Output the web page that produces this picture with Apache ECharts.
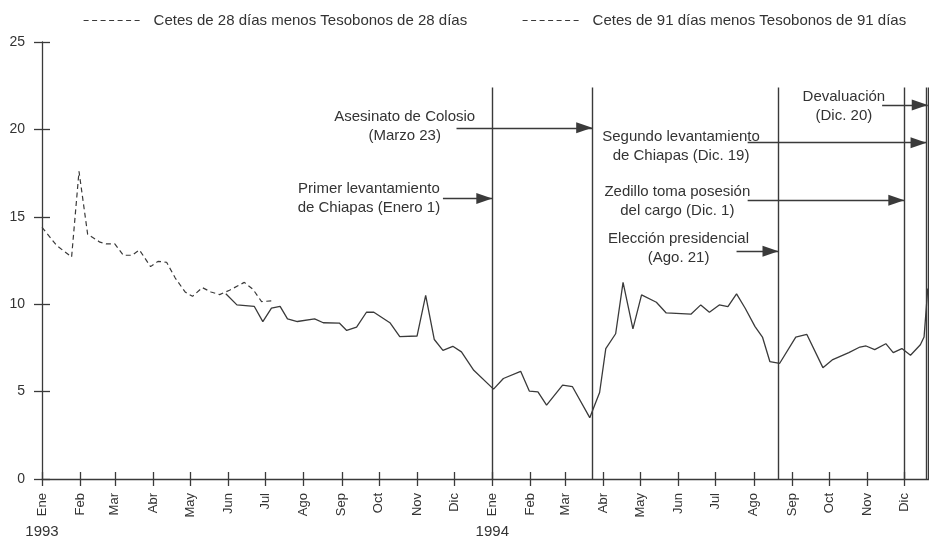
<!DOCTYPE html>
<html>
<head>
<meta charset="utf-8">
<script src="https://cdn.jsdelivr.net/npm/echarts@6.0.0/dist/echarts.min.js"></script>
<style>
  html, body { margin: 0; padding: 0; background: #fff; }
  #chart { width: 929px; height: 539px; }
</style>
</head>
<body>
<div id="chart"></div>
<script>
// nombres de mes para el eje x
const months = ['Ene', 'Feb', 'Mar', 'Abr', 'May', 'Jun', 'Jul', 'Ago', 'Sep', 'Oct', 'Nov', 'Dic']
const yTicks = [0, 5, 10, 15, 20, 25]

const name28 = 'Cetes de 28 días menos Tesobonos de 28 días'
const name91 = 'Cetes de 91 días menos Tesobonos de 91 días'

const dates28 = ['1993-01-01', '1993-01-13', '1993-01-25', '1993-01-31', '1993-02-07', '1993-02-17', '1993-02-22',
  '1993-03-01', '1993-03-08', '1993-03-15', '1993-03-21', '1993-03-30', '1993-04-05', '1993-04-12', '1993-04-19',
  '1993-04-27', '1993-05-03', '1993-05-11', '1993-05-18', '1993-05-25', '1993-06-02', '1993-06-14', '1993-06-21',
  '1993-06-28', '1993-07-08']
const values28 = [14.4, 13.35, 12.7, 17.6, 14.0, 13.55, 13.45, 13.45, 12.8, 12.8, 13.1, 12.15, 12.45, 12.4, 11.5,
  10.7, 10.45, 10.95, 10.7, 10.55, 10.8, 11.25, 10.85, 10.15, 10.2]

const dates91 = ['1993-05-30', '1993-06-08', '1993-06-22', '1993-06-29', '1993-07-06', '1993-07-13', '1993-07-19',
  '1993-07-27', '1993-08-10', '1993-08-17', '1993-08-30', '1993-09-05', '1993-09-13', '1993-09-21', '1993-09-27',
  '1993-10-10', '1993-10-18', '1993-11-01', '1993-11-08', '1993-11-15', '1993-11-22', '1993-11-30', '1993-12-07',
  '1993-12-17', '1994-01-02', '1994-01-10', '1994-01-24', '1994-01-31', '1994-02-07', '1994-02-14', '1994-02-27',
  '1994-03-07', '1994-03-21', '1994-03-29', '1994-04-03', '1994-04-11', '1994-04-17', '1994-04-25', '1994-05-02',
  '1994-05-14', '1994-05-22', '1994-06-11', '1994-06-19', '1994-06-26', '1994-07-04', '1994-07-11', '1994-07-18',
  '1994-07-25', '1994-08-02', '1994-08-08', '1994-08-14', '1994-08-22', '1994-09-04', '1994-09-13', '1994-09-26',
  '1994-10-04', '1994-10-17', '1994-10-26', '1994-10-31', '1994-11-07', '1994-11-16', '1994-11-22', '1994-11-29',
  '1994-12-06', '1994-12-14', '1994-12-17', '1994-12-20']
const values91 = [10.6, 9.96, 9.88, 9.0, 9.77, 9.88, 9.16, 9.01, 9.16, 8.94, 8.92, 8.5, 8.69, 9.54, 9.54, 8.94, 8.14,
  8.18, 10.5, 7.98, 7.36, 7.59, 7.27, 6.22, 5.14, 5.75, 6.16, 5.03, 4.99, 4.23, 5.37, 5.28, 3.51, 4.95, 7.46, 8.31,
  11.25, 8.59, 10.53, 10.11, 9.5, 9.43, 9.96, 9.54, 9.96, 9.86, 10.59, 9.77, 8.72, 8.12, 6.72, 6.62, 8.12, 8.27,
  6.37, 6.83, 7.23, 7.55, 7.61, 7.4, 7.74, 7.23, 7.46, 7.08, 7.68, 8.12, 10.9]

// fechas de los eventos (lineas verticales)
const eventDates = ['1994-01-01', '1994-03-23', '1994-08-21', '1994-12-01', '1994-12-19', '1994-12-20']
const eventTop = 22.4

// texto, ancla del texto, inicio de la flecha, altura y fecha destino
const notes = [
  { text: 'Primer levantamiento\nde Chiapas (Enero 1)', at: ['1993-09-23', 16.08], from: '1993-11-22', y: 16.05, to: '1994-01-01' },
  { text: 'Asesinato de Colosio\n(Marzo 23)', at: ['1993-10-22', 20.18], from: '1993-12-03', y: 20.09, to: '1994-03-23' },
  { text: 'Devaluación\n(Dic. 20)', at: ['1994-10-13', 21.29], from: '1994-11-13', y: 21.4, to: '1994-12-20' },
  { text: 'Segundo levantamiento\nde Chiapas (Dic. 19)', at: ['1994-06-03', 19.04], from: '1994-07-27', y: 19.24, to: '1994-12-19' },
  { text: 'Zedillo toma posesión\ndel cargo (Dic. 1)', at: ['1994-05-31', 15.91], from: '1994-07-27', y: 15.94, to: '1994-12-01' },
  { text: 'Elección presidencial\n(Ago. 21)', at: ['1994-06-01', 13.18], from: '1994-07-18', y: 13.03, to: '1994-08-21' }
]

function t(s) {
  const p = s.split('-')
  return Date.UTC(+p[0], +p[1] - 1, +p[2])
}

const xMin = t('1993-01-01')
const xMax = t('1994-12-21')
const ink = '#3a3a3a'
const font = 'Liberation Sans, Arial, sans-serif'

const chart = echarts.init(document.getElementById('chart'))

const vLines = eventDates.map(d => [
  { coord: [t(d), 0], symbol: 'none' },
  { coord: [t(d), eventTop], symbol: 'none' }
])
const arrows = notes.map(n => [
  { coord: [t(n.from), n.y], symbol: 'none' },
  { coord: [t(n.to), n.y], symbol: 'triangle', symbolSize: [11, 16], symbolOffset: [0, 8] }
])

const timeAxis = {
  type: 'time',
  min: xMin,
  max: xMax,
  splitNumber: 24,
  position: 'bottom',
  splitLine: { show: false }
}

const legendBase = {
  top: 8, itemWidth: 57, itemHeight: 12, selectedMode: false,
  itemStyle: { opacity: 0 },
  lineStyle: { type: [5, 3.5], width: 1.2, color: ink },
  textStyle: { fontSize: 15, color: '#333', padding: [0, 0, 0, 8] }
}

const option = {
  useUTC: true,
  animation: false,
  textStyle: { fontFamily: font },
  grid: { left: 42, right: 0, top: 42, bottom: 58 },
  legend: [
    Object.assign({ data: [name28], left: 78 }, legendBase),
    Object.assign({ data: [name91], left: 517 }, legendBase)
  ],
  xAxis: [
    Object.assign({}, timeAxis, {
      axisLine: { lineStyle: { color: ink, width: 1.3 } },
      axisTick: { length: 7, lineStyle: { color: ink, width: 1.3 } },
      axisLabel: {
        rotate: 90, margin: 14, fontSize: 13, color: '#333',
        formatter: v => {
          const d = new Date(v)
          return d.getUTCDate() === 1 ? months[d.getUTCMonth()] : ''
        }
      }
    }),
    Object.assign({}, timeAxis, {
      axisLine: { show: false },
      axisTick: { inside: true, length: 7, lineStyle: { color: ink, width: 1.3 } },
      axisLabel: {
        margin: 45, fontSize: 15, color: '#333',
        formatter: v => {
          const d = new Date(v)
          return d.getUTCDate() === 1 && d.getUTCMonth() === 0 ? String(d.getUTCFullYear()) : ''
        }
      }
    })
  ],
  yAxis: [
    {
      type: 'value', min: yTicks[0], max: yTicks[yTicks.length - 1], interval: 5, position: 'left',
      splitLine: { show: false },
      axisLine: { show: true, lineStyle: { color: ink, width: 1.3 } },
      axisTick: { show: true, length: 8, lineStyle: { color: ink, width: 1.3 } },
      axisLabel: { margin: 17, fontSize: 14, color: '#333' }
    },
    {
      type: 'value', min: yTicks[0], max: yTicks[yTicks.length - 1], interval: 5, position: 'left',
      splitLine: { show: false },
      axisLine: { show: false },
      axisTick: { show: true, inside: true, length: 8, lineStyle: { color: ink, width: 1.3 } },
      axisLabel: { show: false }
    }
  ],
  series: [
    {
      name: name28,
      type: 'line',
      symbol: 'none',
      lineStyle: { color: ink, width: 1.2, type: [5, 3.5] },
      itemStyle: { color: ink },
      data: dates28.map((d, i) => [t(d), values28[i]])
    },
    {
      name: name91,
      type: 'line',
      symbol: 'none',
      lineStyle: { color: ink, width: 1.3 },
      itemStyle: { color: ink },
      data: dates91.map((d, i) => [t(d), values91[i]]),
      markLine: {
        silent: true,
        symbol: 'none',
        label: { show: false },
        lineStyle: { color: ink, width: 1.4, type: 'solid' },
        emphasis: { disabled: true },
        data: vLines.concat(arrows)
      },
      markPoint: {
        silent: true,
        symbol: 'circle',
        symbolSize: 0,
        label: {
          show: true, position: 'inside', formatter: '{b}',
          fontSize: 15, lineHeight: 19, color: '#333', fontFamily: font
        },
        data: notes.map(n => ({ name: n.text, coord: [t(n.at[0]), n.at[1]] }))
      }
    }
  ]
}

chart.setOption(option)
</script>
</body>
</html>
